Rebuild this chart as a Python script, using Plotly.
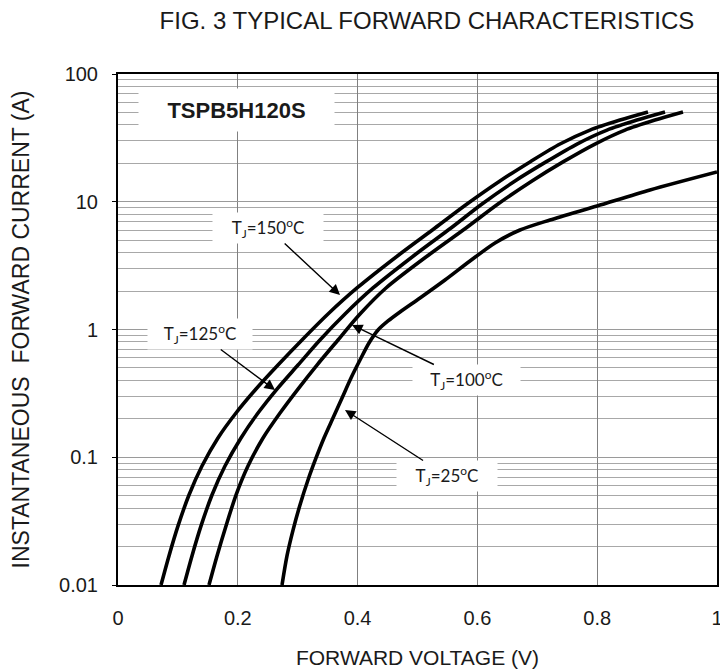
import plotly.graph_objects as go

# ---- data: forward voltage (V) vs instantaneous forward current (A) ----
v_150 = [0.0718, 0.0851, 0.1002, 0.1185, 0.1402, 0.1669, 0.1970, 0.2304, 0.2671, 0.3072, 0.3506,
         0.3990, 0.4708, 0.5292, 0.5826, 0.6377, 0.6878, 0.7379, 0.7880, 0.8381, 0.8848]
i_150 = [0.0100, 0.0169, 0.0290, 0.0506, 0.0854, 0.1416, 0.222, 0.342, 0.527, 0.828, 1.322,
         2.113, 3.90, 6.23, 9.60, 14.54, 20.5, 28.3, 36.4, 43.6, 50.4]

v_125 = [0.1102, 0.1235, 0.1386, 0.1569, 0.1786, 0.2053, 0.2337, 0.2654, 0.3005, 0.3372, 0.3790,
         0.4257, 0.4975, 0.5559, 0.6077, 0.6628, 0.7145, 0.7663, 0.8164, 0.8664, 0.9132]
i_125 = i_150

v_100 = [0.1519, 0.1653, 0.1803, 0.1970, 0.2170, 0.2421, 0.2705, 0.3005, 0.3322, 0.3673, 0.4040,
         0.4474, 0.5209, 0.5810, 0.6344, 0.6912, 0.7429, 0.7963, 0.8464, 0.8965, 0.9432]
i_100 = i_150

v_25 = [0.2738, 0.2821, 0.2922, 0.3038, 0.3172, 0.3306, 0.3439, 0.3589, 0.3740, 0.3890, 0.4040, 0.4190,
        0.4341, 0.4508, 0.4708, 0.5042, 0.5459, 0.5876, 0.6294, 0.6711, 0.7212, 0.7997, 0.8881, 1.0]
i_25 = [0.0100, 0.0169, 0.0269, 0.0423, 0.0664, 0.0987, 0.1416, 0.2029, 0.2910, 0.4173, 0.577, 0.784,
        0.991, 1.166, 1.371, 1.765, 2.441, 3.437, 4.755, 6.01, 7.20, 9.26, 12.36, 17.10]

y_tickvals = [0.01, 0.1, 1, 10, 100]
y_ticktext = ["0.01", "0.1", "1", "10", "100"]
x_tickvals = [0, 0.2, 0.4, 0.6, 0.8, 1.0]
x_ticktext = ["0", "0.2", "0.4", "0.6", "0.8", "1"]

FONT = "Liberation Sans, Arial, sans-serif"
LBL_FONT = "Lato, Liberation Sans, sans-serif"
TXT = "#1a1a1a"

fig = go.Figure()
for vx, iy in [(v_150, i_150), (v_125, i_125), (v_100, i_100), (v_25, i_25)]:
    fig.add_trace(go.Scatter(x=vx, y=iy, mode="lines",
                             line=dict(color="black", width=3.6, shape="spline", smoothing=0.8),
                             showlegend=False, hoverinfo="skip"))

fig.update_layout(
    width=720, height=670,
    margin=dict(l=118, r=3, t=74, b=85),
    paper_bgcolor="white", plot_bgcolor="white",
    title=dict(text="FIG. 3 TYPICAL FORWARD CHARACTERISTICS", x=0.593, xanchor="center",
               y=0.970, yanchor="middle", font=dict(family=FONT, size=24, color=TXT)),
)

fig.update_xaxes(range=[0, 1], tickvals=x_tickvals, ticktext=x_ticktext, automargin=False,
                 showgrid=True, gridcolor="#808080", gridwidth=1,
                 showline=True, linecolor="black", linewidth=2, mirror=True,
                 ticks="", ticklabelstandoff=14, zeroline=False, ticklabeloverflow="allow",
                 tickfont=dict(family=FONT, size=20, color=TXT),
                 title=dict(text="FORWARD VOLTAGE (V)", standoff=22,
                            font=dict(family=FONT, size=21, color=TXT)))

fig.update_yaxes(type="log", range=[-2, 2], tickvals=y_tickvals, ticktext=y_ticktext, automargin=False,
                 showgrid=True, gridcolor="#9a9a9a", gridwidth=1,
                 minor=dict(showgrid=True, gridcolor="#a8a8a8", gridwidth=1, dtick="D1", ticks=""),
                 showline=True, linecolor="black", linewidth=2, mirror=True,
                 ticks="outside", ticklen=4, tickcolor="black", ticklabelstandoff=10,
                 tickfont=dict(family=FONT, size=20, color=TXT),
                 title=dict(text="INSTANTANEOUS  FORWARD CURRENT (A)", standoff=23,
                            font=dict(family=FONT, size=23, color=TXT)))

# annotation placement helpers (window pixel -> axis coordinates)
def px2x(px):
    return (px - 118) / 599.0

def py2y(py):
    return 2 - (py - 74) / 127.75

fig.add_annotation(x=px2x(236), y=py2y(110), xref="x", yref="y", showarrow=False,
                   text="<b>TSPB5H120S</b>", bgcolor="white", width=193, height=40,
                   font=dict(family=FONT, size=22, color=TXT))

labels = [
    ("T<sub>J</sub>=150<sup>o</sup>C", (268, 228), (340, 295), 108),
    ("T<sub>J</sub>=125<sup>o</sup>C", (200, 334), (275, 390), 102),
    ("T<sub>J</sub>=100<sup>o</sup>C", (466, 380), (352, 325), 105),
    ("T<sub>J</sub>=25<sup>o</sup>C", (447, 476), (345, 410), 98),
]
for txt, (cx, cy), (tx, ty), w in labels:
    fig.add_annotation(x=px2x(tx), y=py2y(ty), xref="x", yref="y",
                       ax=px2x(cx), ay=py2y(cy), axref="x", ayref="y",
                       text=txt, showarrow=True, arrowhead=2, arrowsize=1.5,
                       arrowwidth=1.4, arrowcolor="black", standoff=0,
                       bgcolor="white", width=w, height=28,
                       font=dict(family=LBL_FONT, size=17, color=TXT))

# remove the browser's default 8px body margin so the 720x670 figure fills the window
fig.write_html("out.html", config={"displayModeBar": False},
               post_script="document.body.style.margin='0';")
